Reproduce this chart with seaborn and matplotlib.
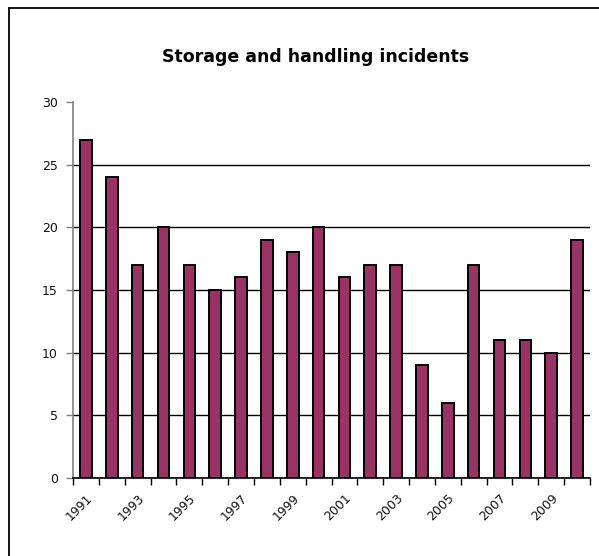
import matplotlib
matplotlib.use("Agg")
import matplotlib.pyplot as plt
import seaborn as sns
from matplotlib.lines import Line2D

years = [str(y) for y in range(1991, 2011)]
incidents = [27, 24, 17, 20, 17, 15, 16, 19, 18, 20, 16, 17, 17, 9, 6, 17, 11, 11, 10, 19]
y_ticks = [0, 5, 10, 15, 20, 25, 30]

sns.set_style("white")
plt.rcParams['font.family'] = ['DejaVu Sans']

fig = plt.figure(figsize=(5.99, 5.56), dpi=100)
ax = fig.add_axes([73 / 599, 1 - 478 / 556, 517 / 599, 376 / 556])

sns.barplot(x=years, y=incidents, color='#993366', edgecolor='black',
            linewidth=1.4, width=0.45, saturation=1, ax=ax)

ax.set_xlim(-0.5, len(years) - 0.5)
ax.set_ylim(0, 30)
ax.set_yticks(y_ticks)
ax.set_yticklabels([str(t) for t in y_ticks], fontsize=9, color='#111111')
ax.tick_params(axis='y', direction='out', length=5, width=1, color='#808080', pad=6, left=True)

# category labels every other year, ticks between categories
ax.set_xticks(range(0, len(years), 2))
ax.set_xticklabels(years[::2], rotation=45, ha='right', va='top',
                   rotation_mode='anchor', fontsize=9, color='#111111')
ax.tick_params(axis='x', which='major', length=0, pad=10)
ax.set_xticks([i + 0.5 for i in range(-1, len(years))], minor=True)
ax.tick_params(axis='x', which='minor', direction='out', length=5, width=1, color='black', bottom=True)

ax.yaxis.grid(True, color='black', linewidth=1)
ax.set_axisbelow(True)
ax.get_ygridlines()[-1].set_visible(False)

for s in ['top', 'right']:
    ax.spines[s].set_visible(False)
ax.spines['left'].set_color('#808080')
ax.spines['left'].set_linewidth(1.2)
ax.spines['bottom'].set_color('black')
ax.spines['bottom'].set_linewidth(1.2)
ax.set_xlabel('')
ax.set_ylabel('')

fig.text(316 / 599, 1 - 57 / 556, 'Storage and handling incidents',
         ha='center', va='center', fontsize=12.5, fontweight='bold', color='black')

# chart area frame (only top and left edges visible)
fig.add_artist(Line2D([9 / 599, 1.0], [1 - 8 / 556, 1 - 8 / 556], color='black', linewidth=1.3))
fig.add_artist(Line2D([9 / 599, 9 / 599], [0.0, 1 - 8 / 556], color='black', linewidth=1.3))

fig.savefig('out.png', dpi=100)
